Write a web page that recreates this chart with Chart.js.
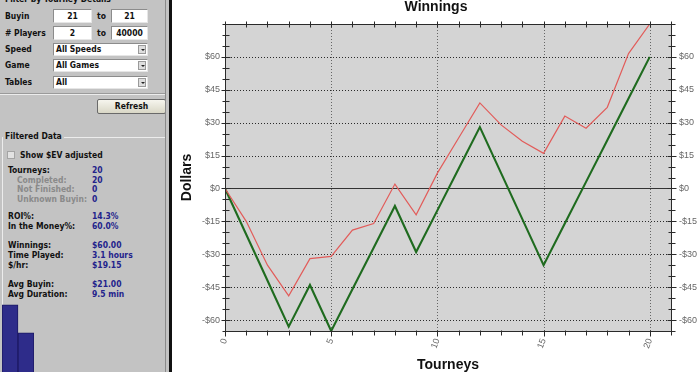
<!DOCTYPE html>
<html><head><meta charset="utf-8">
<script src="https://cdn.jsdelivr.net/npm/chart.js@4/dist/chart.umd.min.js"></script>
<style>
html,body{margin:0;padding:0;width:700px;height:372px;overflow:hidden;background:#fff;}
#side{position:absolute;left:0;top:0;width:169px;height:372px;background:#c3c3c3;font-family:"DejaVu Sans Condensed","DejaVu Sans",sans-serif;font-weight:bold;font-size:8.5px;color:#111;overflow:hidden;}
.t{position:absolute;white-space:nowrap;line-height:10px;}
.g{color:#8a8a8a;}
.v{color:#23238c;}
.box{position:absolute;background:#fff;border:1px solid #8c8c8c;border-right-color:#e6e6e6;border-bottom-color:#e6e6e6;box-sizing:border-box;line-height:12px;text-align:center;white-space:nowrap;}
.sel{position:absolute;background:#fff;border:1px solid #8c8c8c;border-right-color:#e6e6e6;border-bottom-color:#e6e6e6;box-sizing:border-box;line-height:11px;white-space:nowrap;padding-left:2px;}
.arr{position:absolute;right:1px;top:1px;width:8px;height:9px;background:#dedede;border:1px solid #9a9a9a;box-sizing:border-box;}
.arr:after{content:"";position:absolute;left:1.5px;top:3px;border-left:2px solid transparent;border-right:2px solid transparent;border-top:2px solid #222;}
#btn{position:absolute;left:97px;top:99px;width:69px;height:15px;box-sizing:border-box;border:1px solid #6a6a6a;border-radius:2px;background:linear-gradient(#f6f5ee,#d9d7c6);text-align:center;line-height:13px;font-size:8.5px;}
#grp{position:absolute;left:2px;top:137px;width:162px;height:260px;border-top:1px solid #ececec;border-left:1px solid #ececec;}
#chk{position:absolute;left:7px;top:151px;width:8px;height:8px;background:#e2e2e2;border:1px solid #a4a4a4;box-sizing:border-box;}
#edge1{position:absolute;left:165px;top:0;width:1px;height:372px;background:#8a8a8a;}
#edge2{position:absolute;left:169px;top:0;width:3px;height:372px;background:#111;}
#c1{position:absolute;left:172px;top:0;}
#c2{position:absolute;left:2px;top:302px;}
</style></head>
<body>
<div id="side">
  <div class="t" style="left:5px;top:-6px;">Filter by Tourney Details</div>
  <div class="t" style="left:5px;top:11px;">Buyin</div>
  <div class="box" style="left:53px;top:9px;width:39px;height:14px;">21</div>
  <div class="t" style="left:97px;top:11px;">to</div>
  <div class="box" style="left:111px;top:9px;width:37px;height:14px;">21</div>
  <div class="t" style="left:5px;top:28px;"># Players</div>
  <div class="box" style="left:53px;top:26px;width:39px;height:14px;">2</div>
  <div class="t" style="left:97px;top:28px;">to</div>
  <div class="box" style="left:111px;top:26px;width:37px;height:14px;">40000</div>
  <div class="t" style="left:5px;top:44px;">Speed</div>
  <div class="sel" style="left:53px;top:43px;width:95px;height:13px;">All Speeds<div class="arr"></div></div>
  <div class="t" style="left:5px;top:60px;">Game</div>
  <div class="sel" style="left:53px;top:59px;width:95px;height:13px;">All Games<div class="arr"></div></div>
  <div class="t" style="left:5px;top:77px;">Tables</div>
  <div class="sel" style="left:53px;top:76px;width:95px;height:13px;">All<div class="arr"></div></div>
  <div style="position:absolute;left:0;top:93px;width:166px;height:1px;background:#9a9a9a;"></div>
  <div style="position:absolute;left:0;top:94px;width:166px;height:1px;background:#ececec;"></div>
  <div id="btn">Refresh</div>
  <div id="grp"></div>
  <div class="t" style="left:3px;top:131px;background:#c3c3c3;padding:0 2px;">Filtered Data</div>
  <div id="chk"></div>
  <div class="t" style="left:20px;top:150px;">Show $EV adjusted</div>
  <div class="t" style="left:8px;top:165px;">Tourneys:</div><div class="t v" style="left:92px;top:165px;">20</div>
  <div class="t g" style="left:17px;top:174.5px;">Completed:</div><div class="t v" style="left:92px;top:174.5px;">20</div>
  <div class="t g" style="left:17px;top:184px;">Not Finished:</div><div class="t v" style="left:92px;top:184px;">0</div>
  <div class="t g" style="left:17px;top:193.5px;">Unknown Buyin:</div><div class="t v" style="left:92px;top:193.5px;">0</div>
  <div class="t" style="left:8px;top:211px;">ROI%:</div><div class="t v" style="left:92px;top:211px;">14.3%</div>
  <div class="t" style="left:8px;top:221px;">In the Money%:</div><div class="t v" style="left:92px;top:221px;">60.0%</div>
  <div class="t" style="left:8px;top:240px;">Winnings:</div><div class="t v" style="left:92px;top:240px;">$60.00</div>
  <div class="t" style="left:8px;top:250px;">Time Played:</div><div class="t v" style="left:92px;top:250px;">3.1 hours</div>
  <div class="t" style="left:8px;top:260px;">$/hr:</div><div class="t v" style="left:92px;top:260px;">$19.15</div>
  <div class="t" style="left:8px;top:279px;">Avg Buyin:</div><div class="t v" style="left:92px;top:279px;">$21.00</div>
  <div class="t" style="left:8px;top:289px;">Avg Duration:</div><div class="t v" style="left:92px;top:289px;">9.5 min</div>
  <canvas id="c2" width="32" height="70"></canvas>
</div>
<div id="edge1"></div>
<div id="edge2"></div>
<canvas id="c1" width="528" height="372"></canvas>
<script>
// ---- data ----
const tourneyNumbers = [0,1,2,3,4,5,6,7,8,9,10,11,12,13,14,15,16,17,18,19,20];
const winnings   = [0,-21,-42,-63,-44,-65,-46,-27,-8,-29,-10,9,28,7,-14,-35,-16,3,22,41,60];
const evWinnings = [0,-15,-35,-49,-32,-31,-19,-16,2,-12,7,23,39,29,21.5,16,33,27.5,37,61.5,75];
const yTickLabels = [-60,-45,-30,-15,0,15,30,45,60];
const xTickLabels = [0,5,10,15,20];
const miniCategories = ['a','b'];
const miniValues = [12,7];

const money = v => (v < 0 ? '-$' : '$') + Math.abs(v);

const framePlugin = {
  id: 'frame',
  beforeDatasetsDraw(chart) {
    const {ctx, chartArea: a, scales} = chart;
    const ys = scales.y, xs = scales.x;
    ctx.save();
    ctx.fillStyle = '#d4d4d4';
    ctx.fillRect(a.left, a.top, a.right - a.left, a.bottom - a.top);
    ctx.lineWidth = 1;
    ctx.strokeStyle = '#2a2a2a';
    ctx.setLineDash([1, 2]);
    yTickLabels.forEach(v => {
      if (v === 0) return;
      const y = Math.round(ys.getPixelForValue(v)) + 0.5;
      ctx.beginPath(); ctx.moveTo(a.left, y); ctx.lineTo(a.right, y); ctx.stroke();
    });
    ctx.strokeStyle = '#666';
    xTickLabels.forEach(v => {
      if (v === 0) return;
      const x = Math.round(xs.getPixelForValue(v)) + 0.5;
      ctx.beginPath(); ctx.moveTo(x, a.top); ctx.lineTo(x, a.bottom); ctx.stroke();
    });
    ctx.setLineDash([]);
    ctx.strokeStyle = '#333';
    const y0 = Math.round(ys.getPixelForValue(0)) + 0.5;
    ctx.beginPath(); ctx.moveTo(a.left, y0); ctx.lineTo(a.right, y0); ctx.stroke();
    ctx.restore();
  },
  afterDatasetsDraw(chart) {
    const {ctx, chartArea: a, scales} = chart;
    const ys = scales.y, xs = scales.x;
    ctx.save();
    ctx.strokeStyle = '#2a2a2a';
    ctx.lineWidth = 1;
    const L = Math.round(a.left) + 0.5, R = Math.round(a.right) + 0.5;
    const T = Math.round(a.top) + 0.5, B = Math.round(a.bottom) + 0.5;
    ctx.beginPath();
    ctx.moveTo(L, T); ctx.lineTo(R, T); ctx.lineTo(R, B); ctx.lineTo(L, B); ctx.closePath();
    ctx.stroke();
    ys.ticks.forEach(t => {
      const y = Math.round(ys.getPixelForValue(t.value)) + 0.5;
      const major = yTickLabels.includes(t.value);
      ctx.beginPath();
      ctx.moveTo(L - (major ? 4 : 3), y); ctx.lineTo(L + (major ? 5 : 4), y);
      ctx.moveTo(R - (major ? 4 : 3), y); ctx.lineTo(R + (major ? 5 : 4), y);
      ctx.stroke();
    });
    xs.ticks.forEach(t => {
      const x = Math.round(xs.getPixelForValue(t.value)) + 0.5;
      const major = xTickLabels.includes(t.value);
      ctx.beginPath();
      ctx.moveTo(x, T - 3); ctx.lineTo(x, T + 3);
      ctx.moveTo(x, B - 1); ctx.lineTo(x, B + (major ? 5 : 4));
      ctx.stroke();
    });
    ctx.restore();
  }
};

const tickFont = {family: '"Liberation Sans", Arial, sans-serif', size: 9};
const titleFont = {family: '"Liberation Sans", Arial, sans-serif', size: 14, weight: 'bold', lineHeight: 1};

new Chart(document.getElementById('c1'), {
  type: 'line',
  data: {
    datasets: [
      {label: 'EV', data: tourneyNumbers.map((t, i) => ({x: t, y: evWinnings[i]})),
       borderColor: '#e25c5a', borderWidth: 1.2, pointRadius: 0, tension: 0, yAxisID: 'y'},
      {label: 'Winnings', data: tourneyNumbers.map((t, i) => ({x: t, y: winnings[i]})),
       borderColor: '#1f6b1f', borderWidth: 2.1, pointRadius: 0, tension: 0, yAxisID: 'y'}
    ]
  },
  options: {
    responsive: false, animation: false, devicePixelRatio: 1,
    layout: {padding: 0},
    plugins: {
      legend: {display: false}, tooltip: {enabled: false},
      title: {display: true, text: 'Winnings', color: '#111', font: titleFont, padding: {top: 0, bottom: 10}}
    },
    scales: {
      x: {
        type: 'linear', min: 0, max: 21, position: 'bottom',
        grid: {display: false, drawTicks: false}, border: {display: false},
        ticks: {stepSize: 1, autoSkip: false, minRotation: 70, maxRotation: 70, padding: 6,
                color: '#666', font: tickFont,
                callback: v => xTickLabels.includes(v) ? String(v) : ''},
        title: {display: true, text: 'Tourneys', color: '#111', font: titleFont, padding: {top: 0, bottom: 0}},
        afterFit: s => { s.height = 41; }
      },
      y: {
        type: 'linear', min: -65, max: 75, position: 'left',
        grid: {display: false, drawTicks: false}, border: {display: false},
        ticks: {stepSize: 5, autoSkip: false, padding: 5, color: '#666', font: tickFont,
                callback: v => yTickLabels.includes(v) ? money(v) : ''},
        title: {display: true, text: 'Dollars', color: '#111', font: titleFont, padding: {top: 8, bottom: 0}},
        afterFit: s => { s.width = 53; }
      },
      y2: {
        type: 'linear', min: -65, max: 75, position: 'right',
        grid: {display: false, drawTicks: false}, border: {display: false},
        ticks: {stepSize: 5, autoSkip: false, padding: 8, color: '#666', font: tickFont,
                callback: v => yTickLabels.includes(v) ? money(v) : ''},
        afterFit: s => { s.width = 29; }
      }
    }
  },
  plugins: [framePlugin]
});

new Chart(document.getElementById('c2'), {
  type: 'bar',
  data: {labels: miniCategories, datasets: [{data: miniValues, backgroundColor: '#2e2c8a',
    borderColor: '#1b1962', borderWidth: 1, barPercentage: 1, categoryPercentage: 1}]},
  options: {
    responsive: false, animation: false, devicePixelRatio: 1, layout: {padding: 0},
    plugins: {legend: {display: false}, tooltip: {enabled: false}},
    scales: {x: {display: false}, y: {display: false, min: 0, max: 12.5}}
  }
});
</script>
</body></html>
